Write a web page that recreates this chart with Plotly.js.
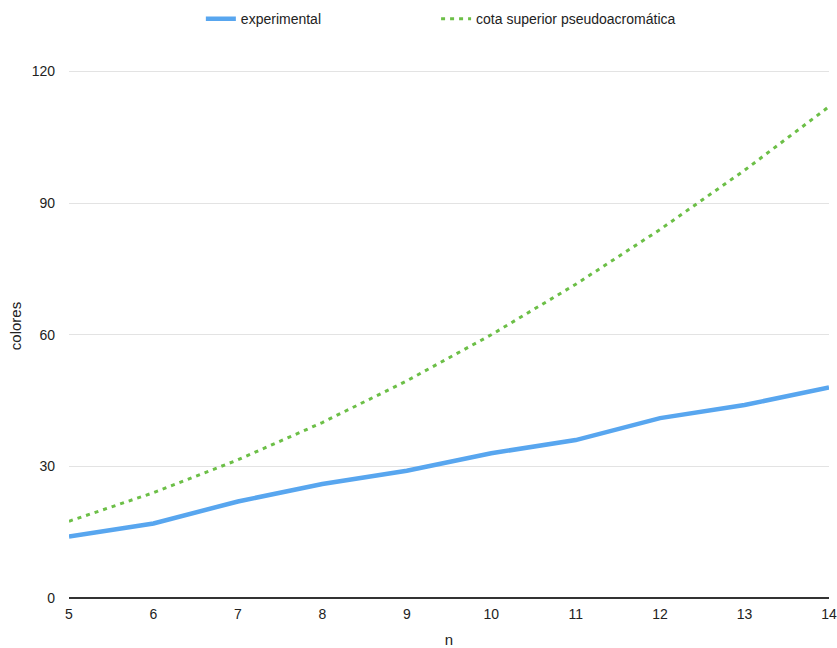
<!DOCTYPE html>
<html>
<head>
<meta charset="utf-8">
<script src="https://cdn.plot.ly/plotly-3.0.1.min.js"></script>
<style>html,body{margin:0;padding:0;background:#fff;}#chart{width:837px;height:648px;}</style>
</head>
<body>
<div id="chart"></div>
<script>
const n = [5, 6, 7, 8, 9, 10, 11, 12, 13, 14];
const experimental = [14, 17, 22, 26, 29, 33, 36, 41, 44, 48];
const cotaSuperior = [17.5, 24, 31.5, 40, 49.5, 60, 71.5, 84, 97.5, 112];
const yTicks = [0, 30, 60, 90, 120];

const traces = [
  {x: n, y: experimental, name: 'experimental', type: 'scatter', mode: 'lines',
   legend: 'legend', line: {color: '#58a6ef', width: 4.5}},
  {x: n, y: cotaSuperior, name: 'cota superior pseudoacromática', type: 'scatter', mode: 'lines',
   legend: 'legend2', line: {color: '#6cbf47', width: 3, dash: '4px,5px'}}
];

const legendBase = {orientation: 'h', xanchor: 'left', y: 1.064, yanchor: 'middle',
                    font: {size: 14, color: '#222'}};

const layout = {
  width: 837, height: 648,
  margin: {l: 69, r: 8, t: 54, b: 50, autoexpand: false},
  paper_bgcolor: '#fff', plot_bgcolor: '#fff',
  font: {family: 'Liberation Sans, Arial, sans-serif', size: 14, color: '#222'},
  showlegend: true,
  legend: Object.assign({}, legendBase, {x: 0.1735}),
  legend2: Object.assign({}, legendBase, {x: 0.483}),
  xaxis: {range: [5, 14], tickvals: n, ticktext: n.map(String), showgrid: false, zeroline: false,
          showline: false, ticks: '', tickfont: {size: 14}, ticklabelstandoff: 6,
          title: {text: 'n', font: {size: 15}, standoff: 21}},
  yaxis: {range: [0, 124], tickvals: yTicks, showgrid: true, gridcolor: '#e3e3e3', gridwidth: 1,
          zeroline: true, zerolinecolor: '#333', zerolinewidth: 2, ticks: '',
          ticklabelstandoff: 13, tickfont: {size: 14},
          title: {text: 'colores', font: {size: 15}, standoff: 6}}
};
Plotly.newPlot('chart', traces, layout, {displayModeBar: false, staticPlot: true});
</script>
</body>
</html>
